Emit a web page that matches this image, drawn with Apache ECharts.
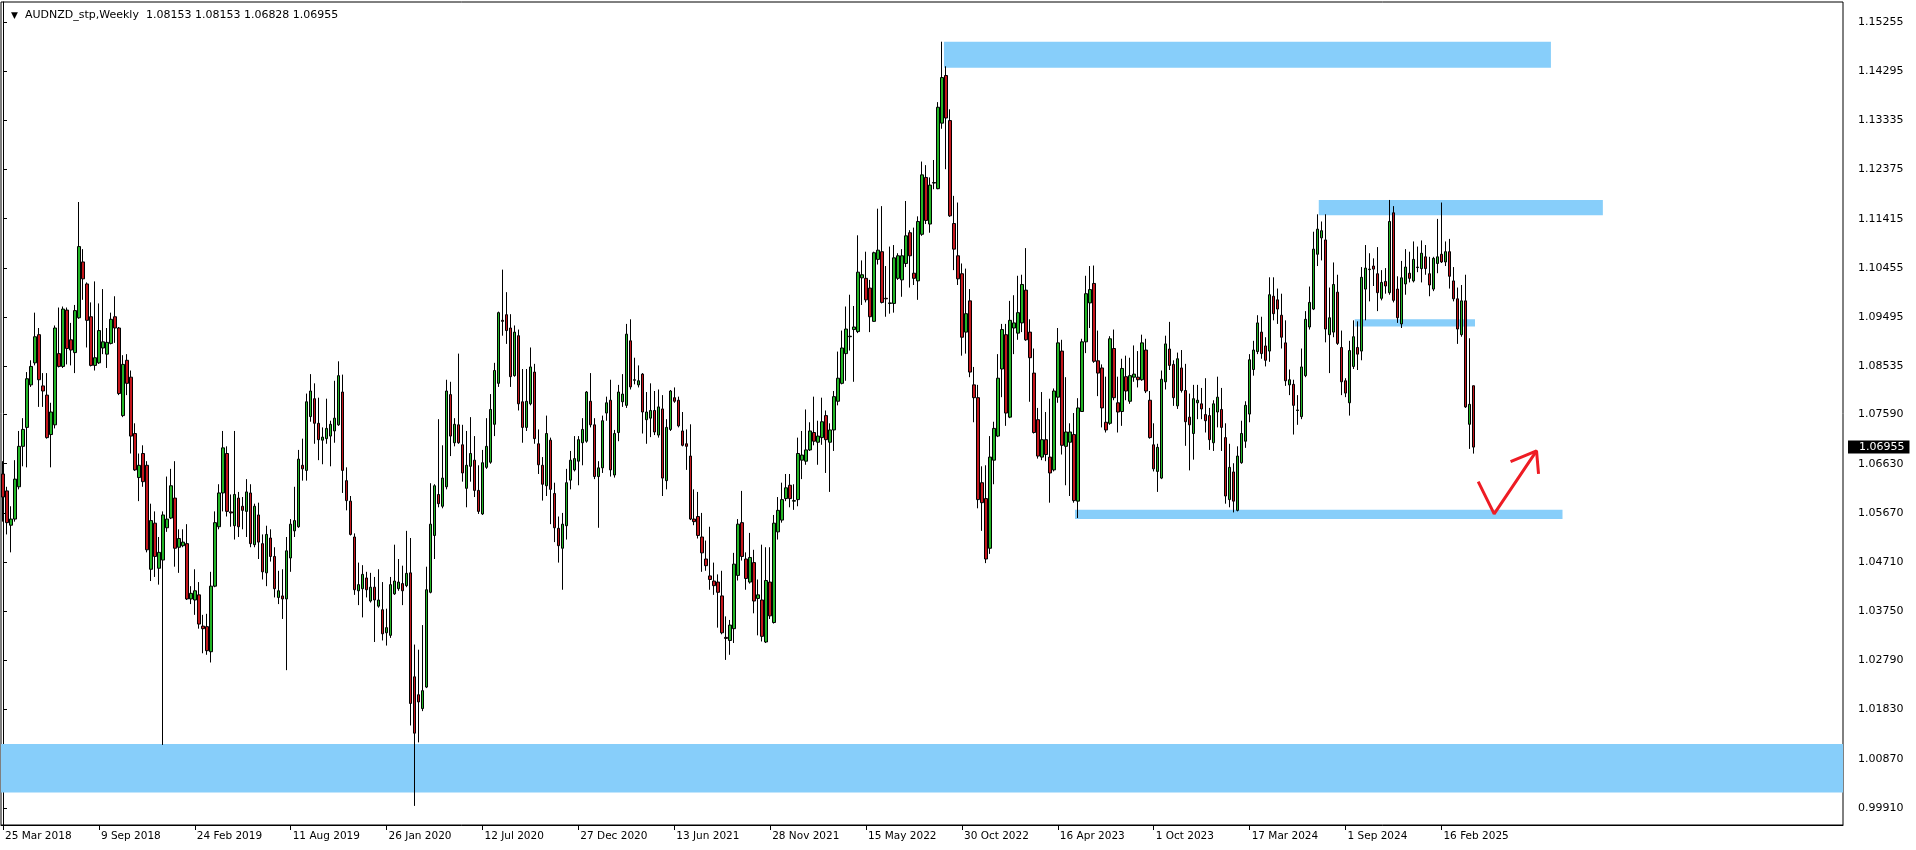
<!DOCTYPE html>
<html><head><meta charset="utf-8">
<script src="https://cdn.jsdelivr.net/npm/echarts@6/dist/echarts.min.js"></script>
<style>html,body{margin:0;padding:0;background:#fff;}#chart{width:1916px;height:850px;}</style>
</head><body><div id="chart"></div>
<script>
const symbolTitle = 'AUDNZD_stp,Weekly';
const lastQuote = [1.08153, 1.08153, 1.06828, 1.06955]; // O H L C of the current week
const firstWeekUTC = [2018, 2, 25];
const totalSlots = 461; // weekly slots incl. empty right margin
const monthNames = ['Jan','Feb','Mar','Apr','May','Jun','Jul','Aug','Sep','Oct','Nov','Dec'];
const xTickLabels = ['25 Mar 2018','9 Sep 2018','24 Feb 2019','11 Aug 2019','26 Jan 2020','12 Jul 2020','27 Dec 2020','13 Jun 2021','28 Nov 2021','15 May 2022','30 Oct 2022','16 Apr 2023','1 Oct 2023','17 Mar 2024','1 Sep 2024','16 Feb 2025'];
const priceTicks = [0.99910,1.00870,1.01830,1.02790,1.03750,1.04710,1.05670,1.06630,1.07590,1.08535,1.09495,1.10455,1.11415,1.12375,1.13335,1.14295,1.15255];
// [open, close, low, high]
const candlesOCLH = [
[1.0643,1.0598,1.0550,1.0668],[1.0610,1.0548,1.0525,1.0618],[1.0543,1.0555,1.0490,1.0580],[1.0555,1.0633,1.0550,1.0670],[1.0618,1.0697,1.0613,1.0727],
[1.0697,1.0730,1.0658,1.0752],[1.0734,1.0829,1.0656,1.0842],[1.0817,1.0853,1.0813,1.0865],[1.0860,1.0911,1.0855,1.0958],[1.0915,1.0827,1.0774,1.0928],
[1.0815,1.0805,1.0774,1.0840],[1.0797,1.0714,1.0712,1.0840],[1.0720,1.0764,1.0656,1.0782],[1.0739,1.0928,1.0732,1.0933],[1.0878,1.0853,1.0851,1.0968],
[1.0853,1.0965,1.0850,1.0970],[1.0963,1.0888,1.0857,1.0968],[1.0905,1.0885,1.0855,1.0938],[1.0880,1.0962,1.0840,1.0973],[1.0948,1.1087,1.0946,1.1174],
[1.1057,1.1024,1.0983,1.1082],[1.1014,1.0943,1.0890,1.1017],[1.0950,1.0855,1.0853,1.0978],[1.0855,1.0870,1.0845,1.1019],[1.0860,1.0923,1.0858,1.0976],
[1.0889,1.0901,1.0877,1.1004],[1.0877,1.0900,1.0850,1.0928],[1.0898,1.0945,1.0896,1.0958],[1.0950,1.0928,1.0899,1.0990],[1.0928,1.0800,1.0797,1.0930],
[1.0757,1.0857,1.0754,1.0875],[1.0865,1.0820,1.0797,1.0877],[1.0832,1.0717,1.0683,1.0845],[1.0722,1.0651,1.0649,1.0742],[1.0636,1.0660,1.0590,1.0683],
[1.0683,1.0628,1.0618,1.0699],[1.0660,1.0495,1.0490,1.0668],[1.0457,1.0552,1.0434,1.0585],[1.0547,1.0482,1.0442,1.0570],[1.0459,1.0490,1.0427,1.0520],
[1.0475,1.0563,1.0114,1.0570],[1.0538,1.0555,1.0530,1.0638],[1.0557,1.0620,1.0555,1.0653],[1.0596,1.0498,1.0462,1.0668],[1.0500,1.0517,1.0450,1.0535],
[1.0503,1.0510,1.0500,1.0535],[1.0507,1.0399,1.0397,1.0545],[1.0399,1.0410,1.0389,1.0424],[1.0397,1.0415,1.0368,1.0457],[1.0407,1.0350,1.0341,1.0432],
[1.0346,1.0341,1.0293,1.0368],[1.0345,1.0298,1.0290,1.0370],[1.0296,1.0424,1.0275,1.0452],[1.0424,1.0548,1.0422,1.0570],[1.0540,1.0606,1.0535,1.0623],
[1.0606,1.0694,1.0570,1.0727],[1.0683,1.0570,1.0560,1.0697],[1.0569,1.0567,1.0540,1.0603],[1.0542,1.0603,1.0515,1.0727],[1.0596,1.0540,1.0520,1.0608],
[1.0580,1.0572,1.0535,1.0598],[1.0570,1.0608,1.0520,1.0633],[1.0606,1.0507,1.0500,1.0623],[1.0505,1.0580,1.0500,1.0585],[1.0563,1.0510,1.0477,1.0587],
[1.0507,1.0452,1.0437,1.0525],[1.0450,1.0525,1.0424,1.0542],[1.0518,1.0482,1.0472,1.0535],[1.0482,1.0419,1.0402,1.0500],[1.0402,1.0415,1.0389,1.0454],
[1.0405,1.0399,1.0360,1.0457],[1.0399,1.0493,1.0260,1.0520],[1.0479,1.0545,1.0452,1.0555],[1.0532,1.0552,1.0520,1.0618],[1.0540,1.0672,1.0538,1.0690],
[1.0660,1.0653,1.0630,1.0712],[1.0650,1.0784,1.0630,1.0800],[1.0755,1.0805,1.0745,1.0838],[1.0790,1.0742,1.0702,1.0820],[1.0742,1.0710,1.0670,1.0792],
[1.0709,1.0715,1.0662,1.0734],[1.0712,1.0732,1.0702,1.0790],[1.0717,1.0740,1.0658,1.0747],[1.0727,1.0752,1.0704,1.0825],[1.0739,1.0835,1.0737,1.0863],
[1.0803,1.0650,1.0606,1.0837],[1.0630,1.0591,1.0572,1.0656],[1.0590,1.0525,1.0523,1.0600],[1.0520,1.0417,1.0407,1.0527],[1.0415,1.0427,1.0387,1.0470],
[1.0419,1.0447,1.0363,1.0465],[1.0440,1.0417,1.0402,1.0452],[1.0395,1.0422,1.0392,1.0450],[1.0422,1.0397,1.0315,1.0442],[1.0385,1.0397,1.0382,1.0457],
[1.0378,1.0331,1.0318,1.0432],[1.0333,1.0343,1.0308,1.0380],[1.0328,1.0427,1.0323,1.0442],[1.0409,1.0434,1.0407,1.0505],[1.0419,1.0432,1.0415,1.0477],
[1.0429,1.0415,1.0387,1.0464],[1.0425,1.0449,1.0422,1.0532],[1.0450,1.0195,1.0152,1.0518],[1.0247,1.0137,0.9995,1.0310],[1.0212,1.0198,1.0119,1.0300],
[1.0185,1.0220,1.0180,1.0348],[1.0227,1.0417,1.0225,1.0462],[1.0412,1.0545,1.0410,1.0625],[1.0523,1.0620,1.0477,1.0623],[1.0603,1.0585,1.0578,1.0750],
[1.0580,1.0635,1.0576,1.0699],[1.0618,1.0805,1.0613,1.0827],[1.0798,1.0717,1.0678,1.0823],[1.0704,1.0740,1.0697,1.0752],[1.0739,1.0704,1.0702,1.0878],
[1.0700,1.0645,1.0628,1.0739],[1.0615,1.0660,1.0578,1.0727],[1.0658,1.0683,1.0628,1.0754],[1.0670,1.0611,1.0598,1.0717],[1.0611,1.0570,1.0565,1.0660],
[1.0565,1.0665,1.0563,1.0690],[1.0656,1.0697,1.0653,1.0752],[1.0666,1.0769,1.0663,1.0799],[1.0740,1.0845,1.0717,1.0860],[1.0820,1.0958,1.0813,1.0960],
[1.0943,1.0941,1.0913,1.1042],[1.0954,1.0923,1.0897,1.0998],[1.0928,1.0833,1.0813,1.0955],[1.0835,1.0920,1.0833,1.0933],[1.0913,1.0780,1.0767,1.0925],
[1.0784,1.0734,1.0704,1.0848],[1.0734,1.0785,1.0727,1.0848],[1.0780,1.0852,1.0777,1.0890],[1.0842,1.0712,1.0702,1.0858],[1.0702,1.0661,1.0643,1.0730],
[1.0660,1.0623,1.0591,1.0676],[1.0620,1.0722,1.0600,1.0757],[1.0709,1.0613,1.0545,1.0714],[1.0605,1.0538,1.0510,1.0626],[1.0537,1.0503,1.0470,1.0560],
[1.0498,1.0545,1.0417,1.0567],[1.0542,1.0626,1.0515,1.0653],[1.0631,1.0670,1.0613,1.0688],[1.0651,1.0673,1.0648,1.0717],[1.0668,1.0710,1.0621,1.0717],
[1.0704,1.0730,1.0660,1.0752],[1.0707,1.0803,1.0704,1.0805],[1.0785,1.0739,1.0734,1.0840],[1.0739,1.0638,1.0633,1.0752],[1.0638,1.0655,1.0538,1.0668],
[1.0655,1.0747,1.0645,1.0757],[1.0762,1.0782,1.0747,1.0794],[1.0787,1.0651,1.0638,1.0827],[1.0641,1.0722,1.0636,1.0729],[1.0724,1.0803,1.0707,1.0817],
[1.0784,1.0799,1.0774,1.0838],[1.0777,1.0916,1.0772,1.0936],[1.0903,1.0813,1.0808,1.0945],[1.0826,1.0827,1.0818,1.0870],[1.0817,1.0825,1.0812,1.0855],
[1.0838,1.0764,1.0722,1.0840],[1.0749,1.0764,1.0702,1.0803],[1.0752,1.0767,1.0715,1.0820],[1.0767,1.0725,1.0719,1.0805],[1.0719,1.0774,1.0714,1.0808],
[1.0770,1.0635,1.0600,1.0797],[1.0630,1.0734,1.0613,1.0750],[1.0730,1.0805,1.0727,1.0807],[1.0792,1.0785,1.0782,1.0812],[1.0787,1.0737,1.0734,1.0794],
[1.0727,1.0699,1.0697,1.0764],[1.0702,1.0697,1.0651,1.0730],[1.0678,1.0555,1.0553,1.0740],[1.0555,1.0550,1.0543,1.0613],[1.0560,1.0523,1.0517,1.0608],
[1.0520,1.0489,1.0452,1.0567],[1.0477,1.0464,1.0454,1.0513],[1.0444,1.0437,1.0417,1.0540],[1.0434,1.0425,1.0407,1.0470],[1.0432,1.0412,1.0343,1.0447],
[1.0405,1.0333,1.0330,1.0454],[1.0324,1.0322,1.0280,1.0365],[1.0318,1.0348,1.0290,1.0358],[1.0341,1.0467,1.0313,1.0489],[1.0445,1.0545,1.0435,1.0555],
[1.0548,1.0482,1.0474,1.0610],[1.0477,1.0439,1.0417,1.0490],[1.0432,1.0480,1.0429,1.0528],[1.0470,1.0395,1.0371,1.0495],[1.0400,1.0407,1.0328,1.0437],
[1.0397,1.0326,1.0316,1.0505],[1.0315,1.0435,1.0313,1.0500],[1.0432,1.0366,1.0360,1.0500],[1.0353,1.0547,1.0351,1.0563],[1.0530,1.0572,1.0515,1.0598],
[1.0553,1.0593,1.0548,1.0626],[1.0595,1.0616,1.0590,1.0643],[1.0621,1.0595,1.0578,1.0643],[1.0590,1.0591,1.0573,1.0623],[1.0593,1.0683,1.0580,1.0714],
[1.0670,1.0680,1.0633,1.0727],[1.0668,1.0690,1.0661,1.0769],[1.0690,1.0727,1.0688,1.0744],[1.0724,1.0707,1.0699,1.0794],[1.0705,1.0717,1.0661,1.0747],
[1.0714,1.0745,1.0700,1.0792],[1.0757,1.0710,1.0645,1.0767],[1.0705,1.0729,1.0608,1.0742],[1.0729,1.0794,1.0688,1.0805],[1.0785,1.0830,1.0777,1.0882],
[1.0820,1.0889,1.0818,1.0923],[1.0878,1.0926,1.0825,1.0970],[1.0911,1.0912,1.0884,1.0993],[1.0925,1.0930,1.0823,1.0971],[1.0921,1.1037,1.0918,1.1109],
[1.1026,1.1032,1.0973,1.1060],[1.1025,1.0983,1.0978,1.1077],[1.1006,1.0950,1.0920,1.1022],[1.0941,1.1075,1.0940,1.1077],[1.1062,1.1080,1.1052,1.1161],
[1.1077,1.0978,1.0976,1.1166],[1.0986,1.0985,1.0950,1.1049],[1.0976,1.0977,1.0956,1.1087],[1.0976,1.1065,1.0958,1.1090],[1.1025,1.1069,1.1022,1.1074],
[1.1022,1.1069,1.0989,1.1082],[1.1054,1.1108,1.1047,1.1176],[1.1114,1.1069,1.1007,1.1119],[1.1035,1.1025,1.1012,1.1124],[1.1020,1.1136,1.0983,1.1146],
[1.1111,1.1227,1.1108,1.1253],[1.1222,1.1138,1.1131,1.1246],[1.1131,1.1207,1.1114,1.1222],[1.1211,1.1212,1.1199,1.1256],[1.1200,1.1359,1.1199,1.1369],
[1.1328,1.1417,1.1317,1.1487],[1.1421,1.1338,1.1238,1.1439],[1.1333,1.1147,1.1145,1.1355],[1.1132,1.1082,1.1041,1.1186],[1.1069,1.1024,1.1012,1.1173],
[1.1034,1.0910,1.0874,1.1054],[1.0920,1.0956,1.0878,1.1044],[1.0981,1.0842,1.0832,1.1004],[1.0817,1.0792,1.0744,1.0852],[1.0792,1.0593,1.0576,1.0817],
[1.0626,1.0587,1.0532,1.0658],[1.0595,1.0477,1.0469,1.0660],[1.0498,1.0676,1.0487,1.0717],[1.0670,1.0732,1.0623,1.0745],[1.0717,1.0830,1.0715,1.0877],
[1.0848,1.0925,1.0793,1.0936],[1.0915,1.0762,1.0737,1.0936],[1.0754,1.0943,1.0752,1.0981],[1.0928,1.0938,1.0877,1.0992],[1.0918,1.0958,1.0905,1.1030],
[1.0938,1.1013,1.0920,1.1032],[1.1002,1.0905,1.0903,1.1084],[1.0920,1.0870,1.0784,1.0945],[1.0840,1.0724,1.0722,1.0888],[1.0749,1.0678,1.0673,1.0772],
[1.0676,1.0710,1.0670,1.0803],[1.0710,1.0681,1.0668,1.0764],[1.0676,1.0645,1.0587,1.0790],[1.0651,1.0805,1.0648,1.0810],[1.0793,1.0899,1.0782,1.0928],
[1.0883,1.0699,1.0681,1.0905],[1.0697,1.0725,1.0621,1.0832],[1.0705,1.0725,1.0600,1.0742],[1.0720,1.0591,1.0587,1.0762],[1.0590,1.0772,1.0557,1.0791],
[1.0765,1.0901,1.0764,1.0907],[1.0901,1.0995,1.0879,1.1030],[1.0977,1.1003,1.0928,1.1049],[1.1015,1.0863,1.0860,1.1050],[1.0864,1.0840,1.0795,1.0923],
[1.0850,1.0772,1.0734,1.0857],[1.0744,1.0729,1.0724,1.0833],[1.0742,1.0907,1.0739,1.0912],[1.0888,1.0792,1.0787,1.0925],[1.0782,1.0764,1.0724,1.0833],
[1.0765,1.0849,1.0737,1.0868],[1.0833,1.0805,1.0787,1.0874],[1.0785,1.0835,1.0780,1.0870],[1.0832,1.0838,1.0823,1.0894],[1.0832,1.0827,1.0812,1.0883],
[1.0827,1.0899,1.0825,1.0915],[1.0885,1.0805,1.0801,1.0907],[1.0787,1.0714,1.0712,1.0805],[1.0700,1.0653,1.0648,1.0742],[1.0648,1.0695,1.0608,1.0702],
[1.0635,1.0828,1.0633,1.0845],[1.0823,1.0897,1.0808,1.0913],[1.0887,1.0855,1.0846,1.0940],[1.0857,1.0792,1.0776,1.0865],[1.0776,1.0868,1.0770,1.0880],
[1.0850,1.0806,1.0802,1.0885],[1.0806,1.0745,1.0698,1.0858],[1.0754,1.0739,1.0650,1.0800],[1.0722,1.0790,1.0671,1.0817],[1.0782,1.0787,1.0750,1.0817],
[1.0780,1.0770,1.0750,1.0811],[1.0759,1.0747,1.0724,1.0830],[1.0757,1.0710,1.0690,1.0772],[1.0704,1.0780,1.0688,1.0787],[1.0764,1.0793,1.0734,1.0833],
[1.0769,1.0734,1.0688,1.0811],[1.0714,1.0600,1.0585,1.0742],[1.0593,1.0656,1.0578,1.0702],[1.0647,1.0590,1.0568,1.0664],[1.0572,1.0678,1.0570,1.0697],
[1.0665,1.0722,1.0663,1.0747],[1.0707,1.0777,1.0694,1.0785],[1.0760,1.0866,1.0744,1.0877],[1.0847,1.0885,1.0835,1.0903],[1.0882,1.0938,1.0877,1.0953],
[1.0920,1.0878,1.0868,1.0950],[1.0893,1.0865,1.0853,1.0910],[1.0883,1.0993,1.0862,1.1027],[1.0990,1.0956,1.0943,1.1027],[1.0983,1.0965,1.0936,1.1005],
[1.0953,1.0910,1.0888,1.0995],[1.0899,1.0825,1.0815,1.0943],[1.0817,1.0827,1.0797,1.0847],[1.0818,1.0777,1.0720,1.0827],[1.0767,1.0768,1.0739,1.0797],
[1.0755,1.0852,1.0750,1.0888],[1.0835,1.0945,1.0832,1.0961],[1.0930,1.0978,1.0925,1.1009],[1.0965,1.1082,1.0963,1.1116],[1.1072,1.1121,1.1049,1.1150],
[1.1104,1.1118,1.1060,1.1136],[1.1100,1.0926,1.0900,1.1150],[1.0915,1.0948,1.0840,1.1007],[1.0920,1.1013,1.0910,1.1056],[1.0998,1.0898,1.0895,1.1032],
[1.0890,1.0823,1.0797,1.0923],[1.0825,1.0801,1.0793,1.0830],[1.0782,1.0884,1.0757,1.0903],[1.0853,1.0911,1.0848,1.0943],[1.0890,1.0877,1.0846,1.0941],
[1.0883,1.1027,1.0865,1.1047],[1.1004,1.1045,1.0943,1.1090],[1.1042,1.1043,1.0980,1.1074],[1.1049,1.1043,1.1010,1.1064],[1.1034,1.0997,1.0961,1.1086],
[1.0986,1.1017,1.0982,1.1041],[1.1019,1.1010,1.0995,1.1045],[1.0997,1.1136,1.0993,1.1178],[1.1153,1.0982,1.0978,1.1166],[1.1004,1.0948,1.0938,1.1029],
[1.0936,1.1026,1.0928,1.1059],[1.1014,1.1047,1.0993,1.1082],[1.1035,1.1025,1.1017,1.1077],[1.1020,1.1062,1.1017,1.1097],[1.1046,1.1047,1.1037,1.1087],
[1.1044,1.1074,1.1017,1.1099],[1.1067,1.1044,1.1032,1.1090],[1.1034,1.1012,1.0990,1.1067],[1.1004,1.1064,1.1000,1.1067],[1.1054,1.1067,1.1035,1.1141],
[1.1072,1.1057,1.1055,1.1173],[1.1057,1.1077,1.1049,1.1097],[1.1077,1.1029,1.1005,1.1102],[1.1020,1.0985,1.0980,1.1047],[1.0985,1.0926,1.0897,1.1007],
[1.0915,1.0981,1.0911,1.1012],[1.0981,1.0774,1.0772,1.1032],[1.0740,1.0779,1.0692,1.0908],[1.08153,1.06955,1.06828,1.08153]
];
// drawn zones: [fromWeek, toWeek, lowPrice, highPrice]
const zones = [
  [-0.5, 460.5, 1.0021, 1.0116],
  [235.5, 387.4, 1.1436, 1.1487],
  [329.3, 400.4, 1.1148, 1.1178],
  [338.3, 368.4, 1.0931, 1.0945],
  [268.3, 390.3, 1.0555, 1.0573]
];
// hand-drawn check mark: [week, price]
const checkStroke = [[369.2, 1.0628], [373.2, 1.0565], [383.8, 1.0688]];
const arrowHead = [[377.3, 1.0667], [383.8, 1.0688], [384.3, 1.0643]];

const categories = [];
const t0 = Date.UTC(firstWeekUTC[0], firstWeekUTC[1], firstWeekUTC[2]);
for (let i = 0; i < totalSlots; i++) {
  const d = new Date(t0 + i * 7 * 86400000);
  categories.push(d.getUTCDate() + ' ' + monthNames[d.getUTCMonth()] + ' ' + d.getUTCFullYear());
}
const isTick = (idx, val) => xTickLabels.indexOf(categories[idx]) >= 0;
const FONT = 'DejaVu Sans';
const UP = '#22b526', DOWN = '#c4161c', ZONE = '#87cefa';

const chart = echarts.init(document.getElementById('chart'), null, {renderer: 'canvas'});
chart.setOption({
  animation: false,
  backgroundColor: '#fff',
  title: {
    text: '{tri|▼}  ' + symbolTitle + '  ' + lastQuote.map(v => v.toFixed(5)).join(' '),
    left: 6, top: 5,
    textStyle: {fontSize: 11, fontFamily: FONT, color: '#000', fontWeight: 'normal',
      rich: {tri: {fontSize: 9, color: '#000', fontFamily: FONT}}}
  },
  grid: {left: 1, right: 73, top: 2, bottom: 25, show: true, borderColor: '#000', borderWidth: 1, backgroundColor: '#fff'},
  xAxis: [{
    type: 'category', data: categories, boundaryGap: true,
    axisLine: {show: true, lineStyle: {color: '#000', width: 1}},
    axisTick: {show: true, interval: isTick, alignWithLabel: true, length: 5, lineStyle: {color: '#000'}},
    axisLabel: {interval: isTick, align: 'left', margin: 6, color: '#000', fontSize: 10.5, fontFamily: FONT, padding: [0, 0, 0, 2]},
    splitLine: {show: false}
  }, {
    type: 'value', min: -0.5, max: totalSlots - 0.5, show: false
  }],
  yAxis: {
    type: 'value', position: 'right', min: 0.99577, max: 1.15645, scale: true,
    axisLine: {show: true, lineStyle: {color: '#000'}},
    axisTick: {show: true, length: 4, customValues: priceTicks, lineStyle: {color: '#000'}},
    axisLabel: {customValues: priceTicks, formatter: v => Number(v).toFixed(5), margin: 15, color: '#000', fontSize: 11, fontFamily: FONT},
    splitLine: {show: false}
  },
  series: [{
    type: 'custom', xAxisIndex: 1, yAxisIndex: 0, z: 1, silent: true, clip: true,
    encode: {x: [0, 1], y: [2, 3]},
    data: zones,
    renderItem: (params, api) => {
      const a = api.coord([api.value(0), api.value(3)]);
      const b = api.coord([api.value(1), api.value(2)]);
      return {type: 'rect', shape: {x: a[0], y: a[1], width: b[0] - a[0], height: b[1] - a[1]}, style: {fill: ZONE}};
    }
  }, {
    type: 'candlestick', xAxisIndex: 0, yAxisIndex: 0, z: 3,
    data: candlesOCLH, barWidth: 3,
    itemStyle: {color: UP, color0: DOWN, borderColor: '#000', borderColor0: '#000', borderColorDoji: '#000', borderWidth: 1},
    markLine: {
      silent: true, symbol: 'none', animation: false, precision: 5,
      lineStyle: {color: 'rgba(0,0,0,0)', width: 0},
      label: {position: 'end', distance: 5, formatter: () => lastQuote[3].toFixed(5),
        backgroundColor: '#000', color: '#fff', fontSize: 11, fontFamily: FONT, padding: [1, 5, 0, 11], lineHeight: 12},
      data: [{yAxis: lastQuote[3]}]
    }
  }, {
    type: 'line', xAxisIndex: 1, yAxisIndex: 0, z: 6, silent: true, showSymbol: false,
    data: checkStroke, lineStyle: {color: '#ee1c24', width: 3}
  }, {
    type: 'line', xAxisIndex: 1, yAxisIndex: 0, z: 6, silent: true, showSymbol: false,
    data: arrowHead, lineStyle: {color: '#ee1c24', width: 3}
  }]
});
</script>
</body></html>
